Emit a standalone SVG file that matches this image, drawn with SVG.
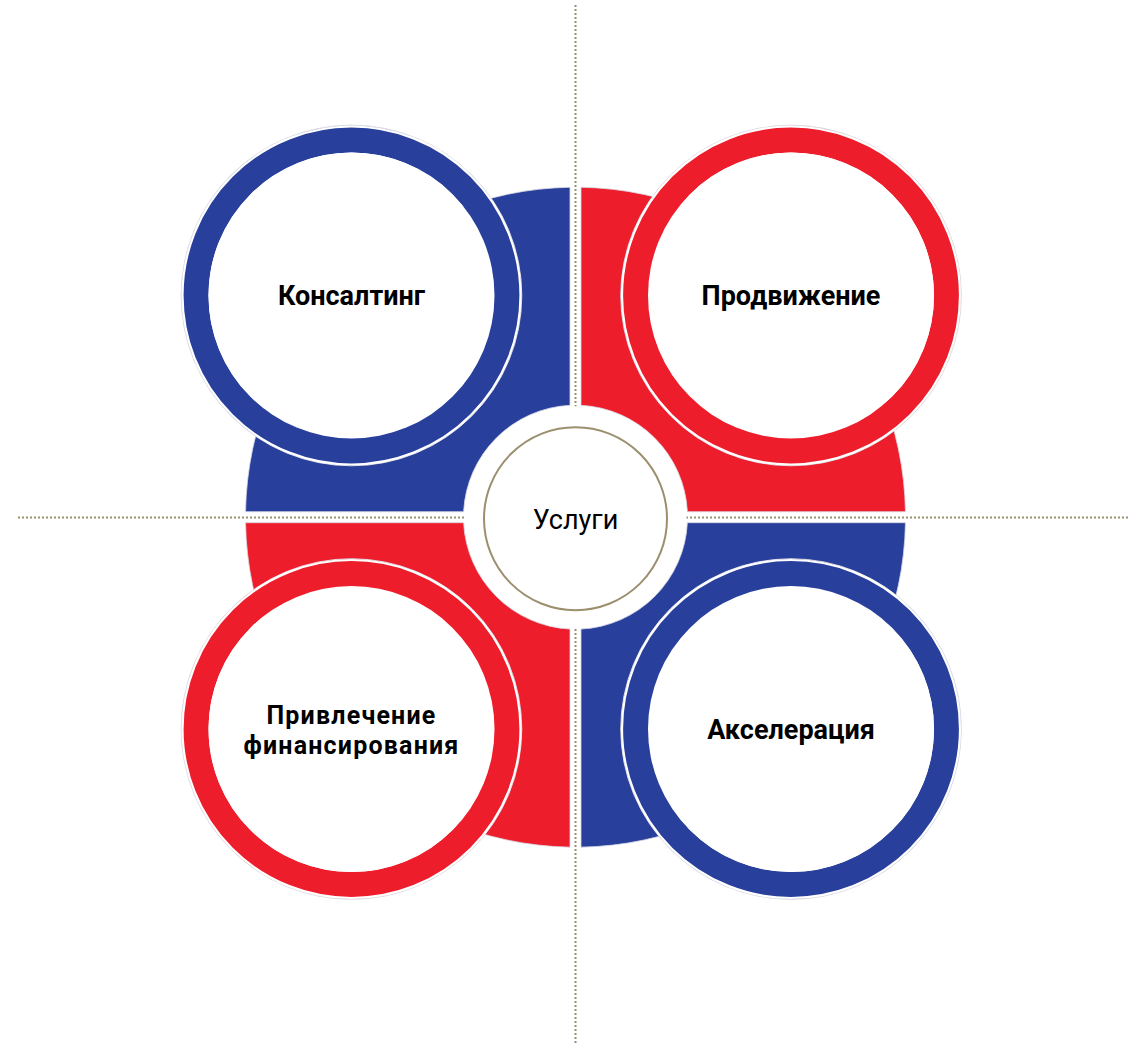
<svg xmlns="http://www.w3.org/2000/svg" width="1140" height="1046" viewBox="0 0 1140 1046">
<style>
.dot{stroke:#9a9070;stroke-width:2;stroke-dasharray:2 2;fill:none}
.blue{fill:#283f9b}
.red{fill:#ee1d2b}
.seg{stroke:#d8d8e4;stroke-width:0.8}
.rb{fill:none;stroke:#283f9b;stroke-width:27}
.rr{fill:none;stroke:#ee1d2b;stroke-width:27}
.inner{fill:#ffffff}
.edge{fill:none;stroke:#ffffff;stroke-width:2.2}
.halo{fill:none;stroke:#d4d4de;stroke-width:1}
.lbl{font-family:Roboto,"Open Sans",sans-serif;font-weight:bold;font-size:27px;fill:#000;text-anchor:middle}
.lbl2{font-family:Roboto,"Open Sans",sans-serif;font-weight:bold;font-size:25px;letter-spacing:1.2px;fill:#000;text-anchor:middle}
.ctr{font-family:Roboto,"Open Sans",sans-serif;font-size:27px;fill:#000;text-anchor:middle}
</style>
<rect width="1140" height="1046" fill="#ffffff"/>
<g id="connectors">
<line class="dot" x1="575.5" y1="5" x2="575.5" y2="1044"/>
<line class="dot" x1="18" y1="517.5" x2="1130" y2="517.5"/>
</g>
<g id="segments">
<path class="blue seg" d="M245.55,511.7 A330,330 0 0 1 570,187.25 L570,405.33 A112,112 0 0 0 463.63,511.7 Z"/>
<path class="red seg" d="M581,187.25 A330,330 0 0 1 905.45,511.7 L687.37,511.7 A112,112 0 0 0 581,405.33 Z"/>
<path class="blue seg" d="M905.45,522.7 A330,330 0 0 1 581,847.15 L581,629.07 A112,112 0 0 0 687.37,522.7 Z"/>
<path class="red seg" d="M570,847.15 A330,330 0 0 1 245.55,522.7 L463.63,522.7 A112,112 0 0 0 570,629.07 Z"/>
</g>
<g id="center">
<circle cx="575.5" cy="517.2" r="111" fill="#ffffff"/>
<circle cx="575.5" cy="518.7" r="91.5" fill="#ffffff" stroke="#9b8f6e" stroke-width="2"/>
<text class="ctr" x="575.5" y="529">Услуги</text>
</g>
<g id="consulting">
<circle class="rb" cx="351.5" cy="295.5" r="156.5"/>
<circle class="halo" cx="351.5" cy="295.5" r="170.3"/>
<circle class="edge" cx="351.5" cy="295.5" r="169"/>
<circle class="inner" cx="351.5" cy="295.5" r="143"/>
<text class="lbl" x="351.5" y="305">Консалтинг</text>
</g>
<g id="promotion">
<circle class="rr" cx="791" cy="295.5" r="156.5"/>
<circle class="halo" cx="791" cy="295.5" r="170.3"/>
<circle class="edge" cx="791" cy="295.5" r="169"/>
<circle class="inner" cx="791" cy="295.5" r="143"/>
<text class="lbl" x="791" y="305">Продвижение</text>
</g>
<g id="financing">
<circle class="rr" cx="351.5" cy="729" r="156.5"/>
<circle class="halo" cx="351.5" cy="729" r="170.3"/>
<circle class="edge" cx="351.5" cy="729" r="169"/>
<circle class="inner" cx="351.5" cy="729" r="143"/>
<text class="lbl2" x="351.5" y="724">Привлечение</text>
<text class="lbl2" x="351.5" y="753.5">финансирования</text>
</g>
<g id="acceleration">
<circle class="rb" cx="791" cy="729" r="156.5"/>
<circle class="halo" cx="791" cy="729" r="170.3"/>
<circle class="edge" cx="791" cy="729" r="169"/>
<circle class="inner" cx="791" cy="729" r="143"/>
<text class="lbl" x="791" y="739">Акселерация</text>
</g>
</svg>
